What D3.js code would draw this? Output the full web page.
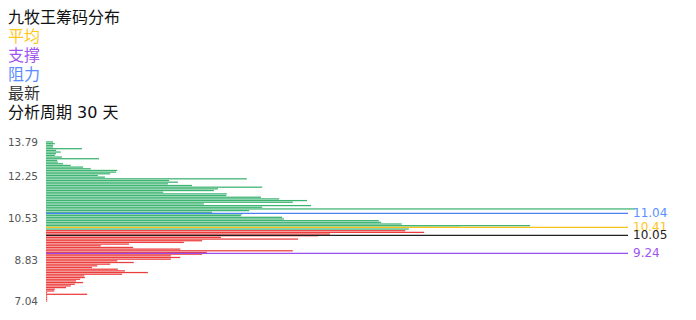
<!DOCTYPE html>
<html>
<head>
<meta charset="utf-8">
<script src="https://cdn.jsdelivr.net/npm/d3@7"></script>
<style>
  body { margin: 0; background: #fff; }
  text { font-family: "DejaVu Sans", "Noto Sans CJK SC", sans-serif; }
</style>
</head>
<body>
<div class="container"></div>
<script>
const WIDTH = 696;
const HEIGHT = 320;

// chip volume per price row, top (high price) to bottom (low price), % of max row
var greenVolumes = [
    1.2, 1.5, 1.2, 1.2, 6.1, 1.7, 2.5, 1.7, 1.5, 2.7,
    9.0, 1.9, 2.0, 2.9, 4.2, 6.3, 7.6, 12.1, 11.9, 10.9,
    8.8, 10.0, 34.1, 20.9, 22.4, 20.7, 24.8, 36.7, 29.2, 28.5,
    19.9, 30.7, 30.6, 36.5, 39.6, 44.3, 41.9, 26.8, 45.0, 36.7,
    100, 34.5, 28.2, 33.3, 33.1, 40.1, 40.4, 56.5, 56.9, 60.4,
    82.2, 70.3, 61.6
];
var redVolumes = [
    61.0, 64.2, 48.2, 46.2, 29.7, 42.8, 26.5, 23.4, 14.1, 9.3,
    14.8, 22.8, 41.9, 27.3, 26.5, 21.2, 22.8, 21.2, 12.1, 14.9,
    10.9, 8.7, 7.8, 12.2, 13.4, 17.3, 12.9, 6.5, 6.6, 5.8,
    5.1, 6.3, 4.9, 4.2, 3.4, 1.5, 1.4, 0.2, 7.0, 0.2,
    0.2, 0.2, 0.2
];

// category labels shown on the price axis (row index -> label)
var tickRows = [0, 20, 45, 70, 95];
var tickLabels = ["13.79", "12.25", "10.53", "8.83", "7.04"];

// reference lines
var lineNames = ["阻力", "平均", "最新", "支撑"];
var linePrices = [11.04, 10.41, 10.05, 9.24];
var lineColors = ["#4a82f5", "#f7c21b", "#222222", "#9a4ded"];
var lineTextColors = ["#5a90ff", "#ffc61a", "#222222", "#a055ee"];

var legendTexts = ["九牧王筹码分布", "平均", "支撑", "阻力", "最新", "分析周期 30 天"];
var legendColors = ["#111", "#ffc61a", "#a055ee", "#5a8cff", "#333", "#111"];

var GREEN = "#3cb371";
var RED = "#ec3d3d";

var drawLegend = function(svg){
    svg.selectAll("text.legend")
        .data(legendTexts)
        .enter()
        .append("text")
        .attr("class", "legend")
        .attr("x", 8)
        .attr("y", function(d, i){ return 17 + i * 19.1; })
        .attr("dominant-baseline", "central")
        .style("font-size", "16px")
        .style("fill", function(d, i){ return legendColors[i]; })
        .text(function(d){ return d; });
};

var load = function(){
    var rows = greenVolumes.map(function(v){ return {v: v, c: GREEN}; })
        .concat(redVolumes.map(function(v){ return {v: v, c: RED}; }));
    rows.forEach(function(d, i){ d.i = i; });

    var svg = d3.select(".container")
        .append("svg")
        .attr("width", WIDTH)
        .attr("height", HEIGHT);

    var y_scale = d3.scalePoint()
        .domain(d3.range(rows.length))
        .range([142, 301]);
    var barH = y_scale.step() * 0.75;

    var x_scale = d3.scaleLinear()
        .domain([0, d3.max(rows, function(d){ return d.v; })])
        .range([46, 635]);

    var price_scale = d3.scaleLinear()
        .domain([7.1, 14.25])
        .range([301, 142]);

    svg.append("g").selectAll("rect")
        .data(rows)
        .enter()
        .append("rect")
        .attr("x", x_scale(0))
        .attr("y", function(d){ return y_scale(d.i) - barH / 2; })
        .attr("width", function(d){ return Math.max(0.6, x_scale(d.v) - x_scale(0)); })
        .attr("height", barH)
        .style("fill", function(d){ return d.c; });

    var axis = d3.axisLeft(y_scale)
        .tickValues(tickRows)
        .tickSize(0)
        .tickPadding(8)
        .tickFormat(function(d){ return tickLabels[tickRows.indexOf(d)]; });
    var ga = svg.append("g")
        .attr("transform", "translate(46,0.5)")
        .call(axis);
    ga.select(".domain").remove();
    ga.selectAll("text")
        .style("font-size", "10.5px")
        .style("fill", "#555")
        .style("font-family", "DejaVu Sans, sans-serif");

    var lines = svg.append("g").selectAll("g")
        .data(linePrices)
        .enter()
        .append("g");
    lines.append("line")
        .attr("x1", 46)
        .attr("x2", 628)
        .attr("y1", function(d){ return price_scale(d); })
        .attr("y2", function(d){ return price_scale(d); })
        .style("stroke", function(d, i){ return lineColors[i]; })
        .style("stroke-width", 1.2);
    lines.append("text")
        .attr("x", 633)
        .attr("y", function(d){ return price_scale(d); })
        .attr("dominant-baseline", "central")
        .style("font-size", "12px")
        .style("fill", function(d, i){ return lineTextColors[i]; })
        .text(function(d){ return d.toFixed(2); });

    drawLegend(svg);
};

window.onload = load;
</script>
</body>
</html>
